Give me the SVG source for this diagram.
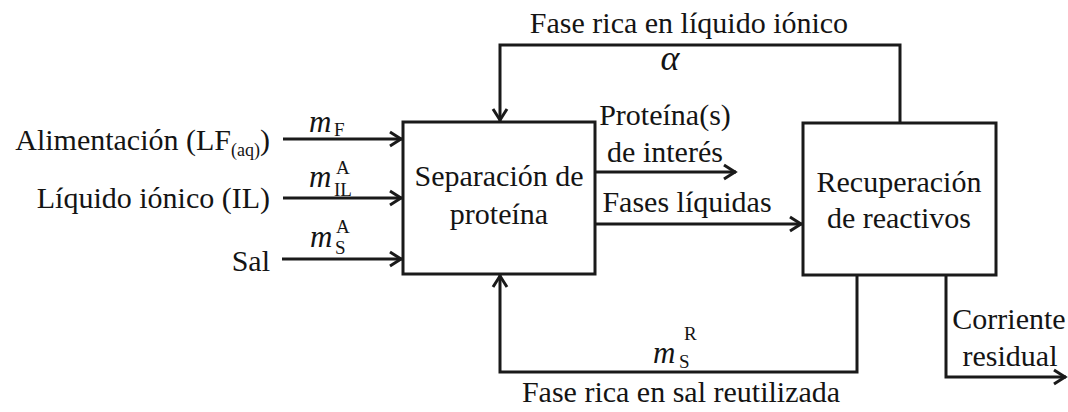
<svg xmlns="http://www.w3.org/2000/svg" width="1068" height="412" viewBox="0 0 1068 412">
<style>
text{font-family:"Liberation Serif","Times New Roman",serif;fill:#141414;font-size:30px}
.m{font-style:italic;font-size:31px}
.s{font-size:19px}
.mid{text-anchor:middle}
.end{text-anchor:end}
.box{fill:#fff;stroke:#1a1a1a;stroke-width:3}
.ln{fill:none;stroke:#1a1a1a;stroke-width:3}
</style>
<defs>
<marker id="ah" viewBox="-15 -9 17 18" refX="0" refY="0" markerWidth="17" markerHeight="18" markerUnits="userSpaceOnUse" orient="auto">
<path d="M-12,-7 L-1,0 L-12,7" fill="none" stroke="#1a1a1a" stroke-width="3"/>
</marker>
</defs>
<rect width="1068" height="412" fill="#fff"/>
<g id="connectors">
<line class="ln" x1="283" y1="139" x2="402" y2="139" marker-end="url(#ah)"/>
<line class="ln" x1="283" y1="198" x2="402" y2="198" marker-end="url(#ah)"/>
<line class="ln" x1="282" y1="259" x2="402" y2="259" marker-end="url(#ah)"/>
<polyline class="ln" points="900,123 900,45 500,45 500,121" marker-end="url(#ah)"/>
<polyline class="ln" points="857,275 857,372 500,372 500,275" marker-end="url(#ah)"/>
<line class="ln" x1="595" y1="172" x2="736" y2="172" marker-end="url(#ah)"/>
<line class="ln" x1="595" y1="224" x2="802" y2="224" marker-end="url(#ah)"/>
<polyline class="ln" points="946,275 946,377 1066,377" marker-end="url(#ah)"/>
</g>
<g id="sep">
<rect class="box" x="403" y="122" width="192" height="152"/>
<text class="mid" x="499" y="186">Separación de</text>
<text class="mid" x="499" y="224">proteína</text>
</g>
<g id="rec">
<rect class="box" x="803" y="123" width="193" height="152"/>
<text class="mid" x="899" y="192">Recuperación</text>
<text class="mid" x="899" y="228">de reactivos</text>
</g>
<g id="inputs">
<text class="end" x="270" y="150">Alimentación (LF<tspan font-size="18" dy="6">(aq)</tspan><tspan dy="-6">)</tspan></text>
<text class="end" x="270" y="208">Líquido iónico (IL)</text>
<text class="end" x="270" y="271">Sal</text>
<text class="m" x="309" y="132">m</text><text class="s" x="334" y="136">F</text>
<text class="m" x="309" y="187">m</text><text class="s" x="334" y="196">IL</text><text class="s" x="336" y="174">A</text>
<text class="m" x="310" y="247">m</text><text class="s" x="335" y="254">S</text><text class="s" x="336" y="233">A</text>
</g>
<g id="labels">
<text class="mid" x="689" y="33">Fase rica en líquido iónico</text>
<text class="m mid" x="670" y="70" style="font-size:36px">α</text>
<text class="mid" x="665" y="125">Proteína(s)</text>
<text class="mid" x="665" y="162">de interés</text>
<text class="mid" x="687" y="212">Fases líquidas</text>
<text class="m" x="653" y="363">m</text><text class="s" x="679" y="368">S</text><text class="s" x="684" y="340">R</text>
<text class="mid" x="681" y="402">Fase rica en sal reutilizada</text>
<text class="mid" x="1009" y="329">Corriente</text>
<text class="mid" x="1010" y="366">residual</text>
</g>
</svg>
